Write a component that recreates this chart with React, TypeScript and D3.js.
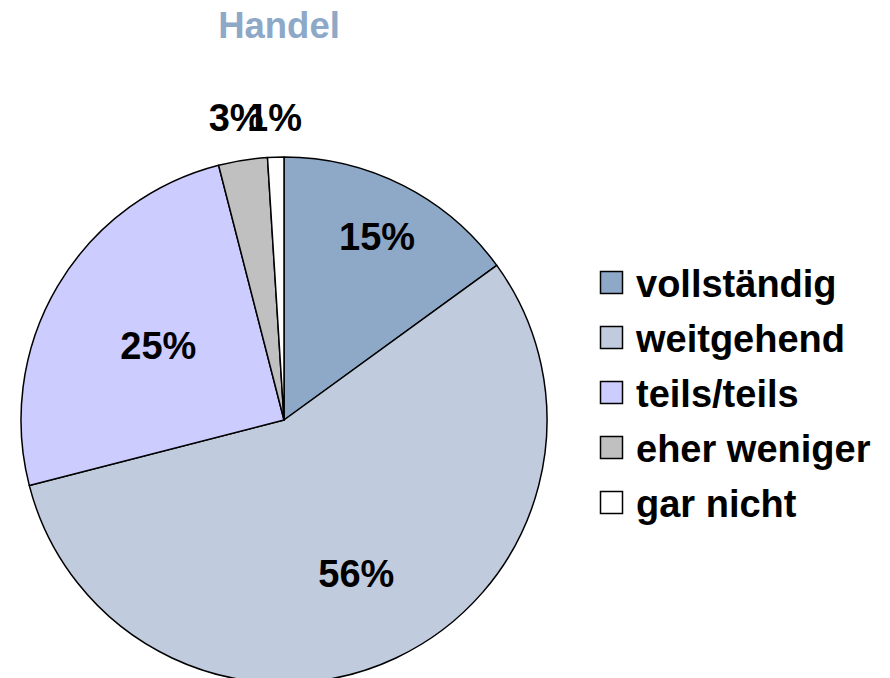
import React, { useEffect, useRef } from "react";
import * as d3 from "d3";

const categories = ["vollständig", "weitgehend", "teils/teils", "eher weniger", "gar nicht"];
const values = [15, 56, 25, 3, 1];
const colors = ["#8ea8c8", "#c0ccdd", "#ccccff", "#c0c0c0", "#ffffff"];
// distance of each percentage label from the pie centre (layout only)
const labelRadius = [205, 170, 146, 306, 302];

const App = () => {
  const svgRef = useRef<SVGSVGElement>(null);

  useEffect(() => {
    const width = 890;
    const height = 678;
    const cx = 284;
    const cy = 420;
    const r = 263;

    const svg = d3
      .select(svgRef.current)
      .attr("width", width)
      .attr("height", height)
      .style("font-family", "'Liberation Sans', Arial, sans-serif")
      .style("background", "#fff");

    svg.selectAll("*").remove();

    const data = categories.map((c, i) => ({ name: c, value: values[i], i }));

    const pie = d3
      .pie<{ name: string; value: number; i: number }>()
      .sort(null)
      .value((d) => d.value);
    const arcs = pie(data);
    const arc = d3.arc<any>().innerRadius(0).outerRadius(r);

    const g = svg.append("g").attr("transform", `translate(${cx}, ${cy})`);

    g.selectAll("path")
      .data(arcs)
      .join("path")
      .attr("d", arc)
      .attr("fill", (d) => colors[d.data.i])
      .attr("stroke", "#000")
      .attr("stroke-width", 1.5)
      .attr("stroke-linejoin", "round");

    // Percentage labels
    g.selectAll("text.pct")
      .data(arcs)
      .join("text")
      .attr("class", "pct")
      .attr("x", (d) => Math.sin((d.startAngle + d.endAngle) / 2) * labelRadius[d.data.i])
      .attr("y", (d) => -Math.cos((d.startAngle + d.endAngle) / 2) * labelRadius[d.data.i])
      .attr("text-anchor", "middle")
      .attr("dominant-baseline", "central")
      .style("font-size", "38px")
      .style("font-weight", "bold")
      .attr("fill", "#000")
      .text((d) => `${d.data.value}%`);

    // Title
    svg
      .append("text")
      .attr("x", 279)
      .attr("y", 38)
      .attr("text-anchor", "middle")
      .style("font-size", "36.5px")
      .style("font-weight", "bold")
      .attr("fill", "#8ea8c8")
      .text("Handel");

    // Legend
    const legend = svg.append("g").attr("transform", "translate(600, 282)");
    const rowY = d3.scaleBand().domain(categories).range([-27, 248]);

    const rows = legend
      .selectAll("g")
      .data(data)
      .join("g")
      .attr("transform", (d) => `translate(0, ${(rowY(d.name) ?? 0) + rowY.bandwidth() / 2})`);

    rows
      .append("rect")
      .attr("x", 0.5)
      .attr("y", -11)
      .attr("width", 22)
      .attr("height", 22)
      .attr("fill", (d) => colors[d.i])
      .attr("stroke", "#000")
      .attr("stroke-width", 1.5);

    rows
      .append("text")
      .attr("x", 36)
      .attr("y", 1)
      .attr("dominant-baseline", "central")
      .style("font-size", "38px")
      .style("font-weight", "bold")
      .attr("fill", "#000")
      .text((d) => d.name);
  }, []);

  return (
    <svg
      ref={svgRef}
      style={{ position: "absolute", left: 0, top: 0, display: "block" }}
    ></svg>
  );
};

export default App;
